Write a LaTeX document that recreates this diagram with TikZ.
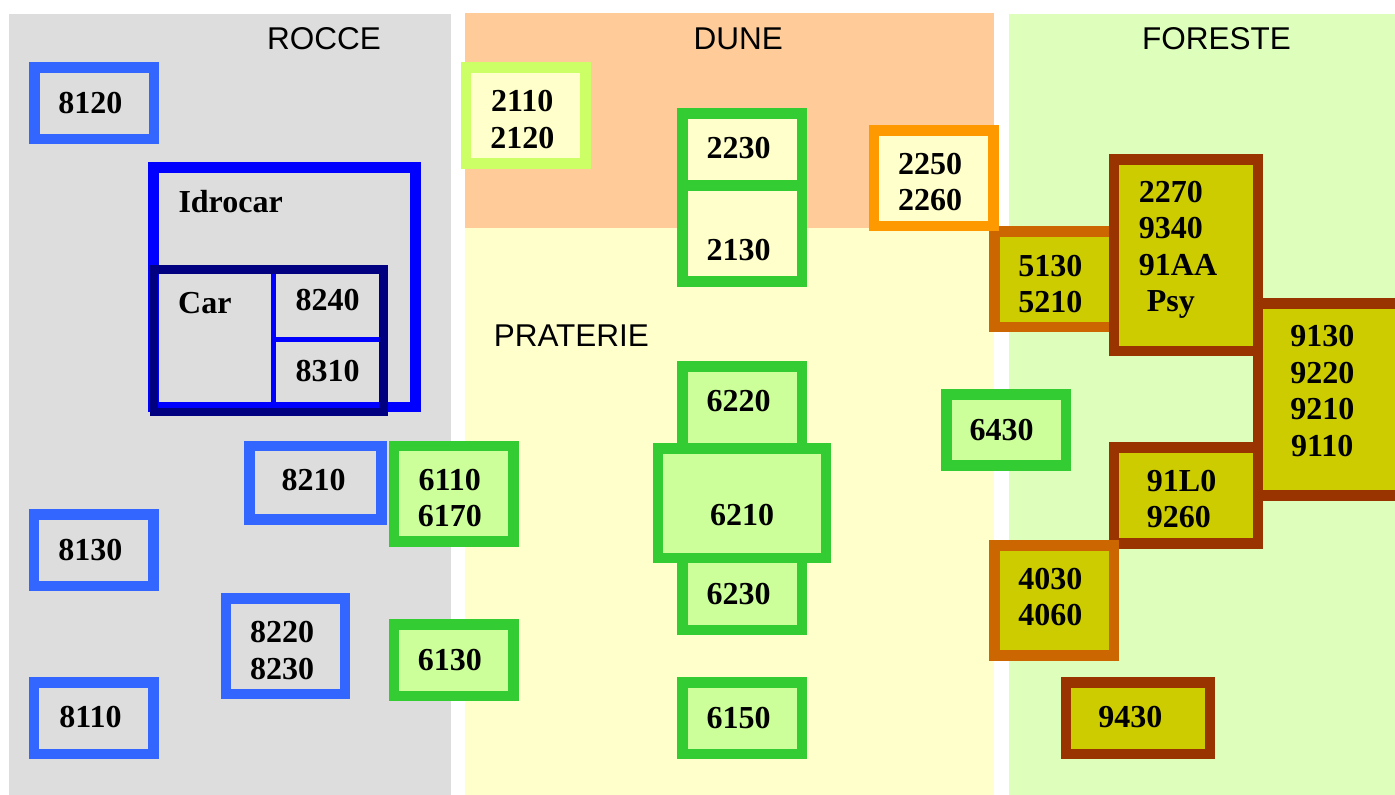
\documentclass[tikz,border=0pt]{standalone}
\usepackage{fontspec}
\setmainfont{Liberation Serif}
\newfontfamily\titlefont{Liberation Sans}
\definecolor{cRocce}{HTML}{DDDDDD}
\definecolor{cDune}{HTML}{FFCC99}
\definecolor{cPrat}{HTML}{FFFFCC}
\definecolor{cFor}{HTML}{DDFFBB}
\definecolor{cBlue}{HTML}{3366FF}
\definecolor{cIdro}{HTML}{0000FF}
\definecolor{cCar}{HTML}{000080}
\definecolor{cGreen}{HTML}{33CC33}
\definecolor{cGreenFill}{HTML}{CCFF99}
\definecolor{cLime}{HTML}{CCFF66}
\definecolor{cOrange}{HTML}{FF9900}
\definecolor{cDkOrange}{HTML}{CC6600}
\definecolor{cBrown}{HTML}{993300}
\definecolor{cOlive}{HTML}{CCCC00}
\newcommand\twolines[2]{\begin{tabular}[t]{@{}c@{}}#1\\#2\end{tabular}}
\newcommand\leftlines[1]{\begin{tabular}[t]{@{}l@{}}#1\end{tabular}}
\newcommand\centerlines[1]{\begin{tabular}[t]{@{}c@{}}#1\end{tabular}}
\begin{document}
\begin{tikzpicture}[x=1pt,y=-1pt,
  bx/.style={draw, rectangle, line width=10.5pt, inner sep=0pt},
  bluebox/.style={bx, draw=cBlue},
  greenbox/.style={bx, draw=cGreen, fill=cGreenFill},
  dunebox/.style={bx, draw=cGreen, fill=cPrat},
  brownbox/.style={bx, draw=cBrown, fill=cOlive},
  orbox/.style={bx, draw=cDkOrange, fill=cOlive},
  lab/.style={font=\bfseries\fontsize{32}{36.5}\selectfont, inner sep=0pt, anchor=base},
  ttl/.style={font=\titlefont\fontsize{31.5}{36}\selectfont, inner sep=0pt, anchor=base}]
\useasboundingbox (0,0) rectangle (1395,795);
\clip (0,0) rectangle (1395,795);
\fill[white] (0,0) rectangle (1395,795);
% panels
\fill[cRocce] (9,14) rectangle (450.7,795);
\fill[cDune] (465,13) rectangle (993.6,228);
\fill[cPrat] (465,228) rectangle (993.6,795);
\fill[cFor] (1009.3,14) rectangle (1395,795);
% titles
\node[ttl] (tRocce) at (324,49) {ROCCE};
\node[ttl] (tDune) at (738.3,49) {DUNE};
\node[ttl] (tFor) at (1216.5,49) {FORESTE};
\node[ttl, anchor=base west] (tPrat) at (493.6,346.7) {PRATERIE};
% ROCCE boxes
\node[bluebox, minimum width=119.5pt, minimum height=71.8pt] (b8120) at (94,103.2) {};
\node[bx, draw=cIdro, minimum width=261.9pt, minimum height=239.5pt] (bIdro) at (284.5,287) {};
\coordinate (dvTop) at (273.5,269.25);
\coordinate (dvBot) at (273.5,411.75);
\coordinate (dhL) at (273.5,339.2);
\coordinate (dhR) at (383.5,339.2);
\draw[cIdro, line width=5pt] (dvTop) -- (dvBot);
\draw[cIdro, line width=5pt] (dhL) -- (dhR);
\node[bx, draw=cCar, line width=8.5pt, minimum width=229.5pt, minimum height=142.5pt] (bCar) at (268.7,340.5) {};
\node[bluebox, minimum width=132pt, minimum height=73.5pt] (b8210) at (315.55,482.7) {};
\node[bluebox, minimum width=119.6pt, minimum height=71.8pt] (b8130) at (93.75,550.15) {};
\node[bluebox, minimum width=119.2pt, minimum height=95.5pt] (b8220) at (285.45,646.3) {};
\node[bluebox, minimum width=119.6pt, minimum height=71.8pt] (b8110) at (93.75,718.15) {};
\node[greenbox, minimum width=119.6pt, minimum height=95.5pt] (b6110) at (453.55,493.7) {};
\node[greenbox, minimum width=119.6pt, minimum height=71.5pt] (b6130) at (453.55,660.3) {};
% DUNE / PRATERIE boxes
\node[bx, draw=cLime, fill=cPrat, minimum width=119.5pt, minimum height=96.2pt] (b2110) at (525.7,115.35) {};
\node[dunebox, minimum width=119.5pt, minimum height=71.9pt] (b2230) at (742.1,149.5) {};
\node[dunebox, minimum width=119.5pt, minimum height=95.7pt] (b2130) at (742.1,233.6) {};
\node[orbox, minimum width=119.5pt, minimum height=95.5pt] (b5130) at (1054,279.3) {};
\node[bx, draw=cOrange, fill=cPrat, minimum width=119.8pt, minimum height=95.2pt] (b2250) at (933.75,178.15) {};
\node[greenbox, minimum width=119.5pt, minimum height=88.5pt] (b6220) at (742.1,410.5) {};
\node[greenbox, minimum width=119.5pt, minimum height=84.8pt] (b6230) at (742.1,587.65) {};
\node[greenbox, minimum width=167.7pt, minimum height=109.5pt] (b6210) at (742,503.3) {};
\node[greenbox, minimum width=119.5pt, minimum height=71.8pt] (b6150) at (742.1,718.15) {};
\node[greenbox, minimum width=119.8pt, minimum height=71.2pt] (b6430) at (1006.15,429.85) {};
% FORESTE boxes
\node[brownbox, minimum width=144.1pt, minimum height=191.5pt] (b2270) at (1186,255) {};
\node[brownbox, minimum width=160pt, minimum height=191.9pt] (b9130) at (1338,399.5) {};
\node[brownbox, minimum width=144.1pt, minimum height=96.2pt] (b91L0) at (1186,495.35) {};
\node[orbox, minimum width=119.5pt, minimum height=110.2pt] (b4030) at (1054,600.35) {};
\node[brownbox, minimum width=144.1pt, minimum height=71.8pt] (b9430) at (1138,718.15) {};
% labels
\node[lab] (l8120) at (90.3,113) {8120};
\node[lab, anchor=base west] (lIdro) at (178.3,212) {Idrocar};
\node[lab, anchor=base west] (lCar) at (178,313) {Car};
\node[lab] (l8240) at (327.5,310.7) {8240};
\node[lab] (l8310) at (327.5,381.7) {8310};
\node[lab] (l8210) at (313.7,490.7) {8210};
\node[lab] (l6110) at (449.8,490) {\twolines{6110}{6170}};
\node[lab] (l8130) at (90.4,560) {8130};
\node[lab] (l8220) at (282,642.7) {\twolines{8220}{8230}};
\node[lab] (l6130) at (449.8,670) {6130};
\node[lab] (l8110) at (90.4,727.3) {8110};
\node[lab] (l2110) at (522.3,111.7) {\twolines{2110}{2120}};
\node[lab] (l2230) at (738.6,158.3) {2230};
\node[lab] (l2130) at (738.6,260) {2130};
\node[lab] (l2250) at (930,174) {\twolines{2250}{2260}};
\node[lab] (l6220) at (738.6,411.7) {6220};
\node[lab] (l6210) at (742.1,525) {6210};
\node[lab] (l6230) at (738.6,604) {6230};
\node[lab] (l6150) at (738.6,728.3) {6150};
\node[lab] (l6430) at (1001.7,440) {6430};
\node[lab] (l5130) at (1050.3,276) {\twolines{5130}{5210}};
\node[lab, anchor=base west] (l2270) at (1138.7,202.3) {\leftlines{2270\\9340\\91AA\\\hspace{8pt}Psy}};
\node[lab] (l9130) at (1322.3,346.7) {\centerlines{9130\\9220\\9210\\9110}};
\node[lab, anchor=base west] (l91L0) at (1146.7,491) {\leftlines{91L0\\9260}};
\node[lab] (l4030) at (1050.3,589) {\twolines{4030}{4060}};
\node[lab] (l9430) at (1130.3,727.7) {9430};
\end{tikzpicture}
\end{document}
